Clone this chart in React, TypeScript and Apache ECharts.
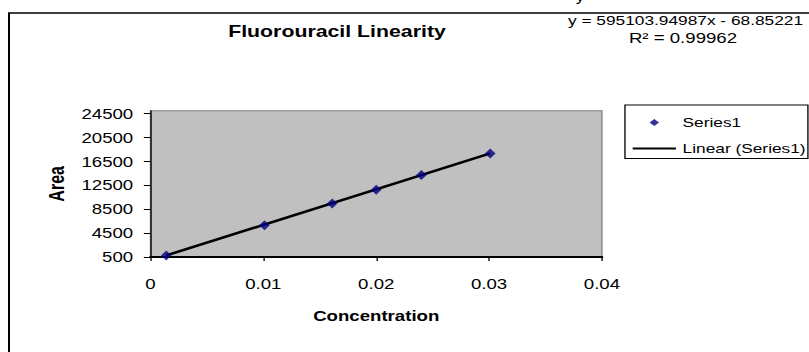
import React, { useEffect, useRef } from 'react';
import * as echarts from 'echarts';

// ---- data ----
const concentration = [0.0014, 0.0101, 0.0161, 0.02, 0.024, 0.0301];
const area = [770, 5800, 9450, 11770, 14230, 17840];
const xTicks = [0, 0.01, 0.02, 0.03, 0.04];
const yTicks = [500, 4500, 8500, 12500, 16500, 20500, 24500];
const trendSlope = 595103.94987;
const trendIntercept = -68.85221;
const rSquared = '0.99962';
const chartTitle = 'Fluorouracil Linearity';
const xTitle = 'Concentration';
const yTitle = 'Area';
const seriesName = 'Series1';
const trendName = 'Linear (Series1)';

const FONT = '"Liberation Sans", Arial, Helvetica, sans-serif';
const W = 608;
const H = 352;
const S = 809 / W;

// legend icons drawn inside a 32.5 x 7 box (degenerate corner points fix the box)
const ICON_DIAMOND = 'path://M0 0L0 0M16.25 -0.2L19.8 3.5L16.25 7.2L12.7 3.5Z M32.5 7L32.5 7';
const ICON_LINE = 'path://M0 0L0 0M0 2.4L32.5 2.4L32.5 4.6L0 4.6Z M32.5 7L32.5 7';

export default function App() {
  const ref = useRef<HTMLDivElement>(null);
  useEffect(() => {
    if (!ref.current) return;
    const chart = echarts.init(ref.current, undefined, { renderer: 'svg' });
    const points = concentration.map((x, i) => [x, area[i]]);
    const xMin = Math.min(...concentration);
    const xMax = Math.max(...concentration);
    const trend = [xMin, xMax].map((x) => [x, trendSlope * x + trendIntercept]);
    const eqText = `y = ${trendSlope}x ${trendIntercept < 0 ? '-' : '+'} ${Math.abs(trendIntercept)}`;

    chart.setOption({
      animation: false,
      backgroundColor: '#ffffff',
      textStyle: { fontFamily: FONT },
      title: {
        text: chartTitle,
        left: 171.5,
        top: 23,
        padding: 0,
        textStyle: { fontSize: 16, fontWeight: 'bold', color: '#000', fontFamily: FONT },
      },
      legend: {
        left: 469.7,
        top: 105,
        orient: 'vertical',
        selectedMode: false,
        padding: [11, 1.7, 3.5, 5.8],
        itemWidth: 32.5,
        itemHeight: 7,
        itemGap: 13,
        symbolKeepAspect: false,
        borderColor: '#000',
        borderWidth: 1,
        backgroundColor: '#fff',
        textStyle: { fontSize: 13, color: '#000', fontFamily: FONT },
        data: [
          { name: seriesName, icon: ICON_DIAMOND },
          { name: trendName, icon: ICON_LINE },
        ],
      },
      grid: {
        left: 113.1,
        right: 155.6,
        top: 110.7,
        bottom: 95,
        show: true,
        backgroundColor: '#c0c0c0',
        borderColor: '#808080',
        borderWidth: 1,
      },
      xAxis: {
        type: 'value',
        min: xTicks[0],
        max: xTicks[xTicks.length - 1],
        interval: 0.01,
        name: xTitle,
        nameLocation: 'middle',
        nameGap: 52,
        nameTextStyle: { fontSize: 14, fontWeight: 'bold', color: '#000', fontFamily: FONT },
        axisLine: { show: true, onZero: false, lineStyle: { color: '#000', width: 2 } },
        axisTick: { show: true, length: 4, lineStyle: { color: '#000', width: 1 } },
        axisLabel: { fontSize: 14, color: '#000', margin: 20, fontFamily: FONT },
        splitLine: { show: false },
      },
      yAxis: {
        type: 'value',
        min: 500,
        max: 25000,
        name: yTitle,
        nameLocation: 'middle',
        nameGap: 62,
        nameRotate: 90,
        nameTextStyle: { fontSize: 16, fontWeight: 'bold', color: '#000', fontFamily: FONT },
        axisLine: { show: true, onZero: false, lineStyle: { color: '#000', width: 1 } },
        axisTick: { show: true, length: 5, customValues: yTicks, lineStyle: { color: '#000', width: 1 } },
        axisLabel: {
          fontSize: 14,
          color: '#000',
          margin: 13,
          customValues: yTicks,
          fontFamily: FONT,
          formatter: (v: number) => String(v),
        },
        splitLine: { show: false },
      },
      series: [
        {
          name: trendName,
          type: 'line',
          data: trend,
          symbol: 'none',
          showSymbol: false,
          lineStyle: { color: '#000', width: 2.5 },
          itemStyle: { color: '#000' },
          z: 2,
        },
        {
          name: seriesName,
          type: 'scatter',
          data: points,
          symbol: 'diamond',
          symbolSize: [8, 10],
          itemStyle: { color: '#000080' },
          z: 3,
        },
      ],
      graphic: [
        {
          type: 'rect',
          silent: true,
          z: -10,
          shape: { x: 6.76, y: 13, width: 700, height: 400 },
          style: { fill: 'none', stroke: '#000', lineWidth: 1.5 },
        },
        {
          type: 'text',
          silent: true,
          x: 436,
          y: -3.5,
          style: { text: 'y', fontSize: 13, fontFamily: FONT, fill: '#000', align: 'center', verticalAlign: 'middle' },
        },
        {
          type: 'text',
          silent: true,
          x: 515.2,
          y: 20,
          style: { text: eqText, fontSize: 13, fontFamily: FONT, fill: '#000', align: 'center', verticalAlign: 'middle' },
        },
        {
          type: 'text',
          silent: true,
          x: 513.3,
          y: 38,
          style: { text: `R² = ${rSquared}`, fontSize: 14, fontFamily: FONT, fill: '#000', align: 'center', verticalAlign: 'middle' },
        },
      ],
    });
    return () => chart.dispose();
  }, []);

  return (
    <div
      ref={ref}
      style={{
        position: 'absolute',
        left: 0,
        top: 0,
        width: W,
        height: H,
        transform: `scaleX(${S})`,
        transformOrigin: '0 0',
      }}
    />
  );
}
